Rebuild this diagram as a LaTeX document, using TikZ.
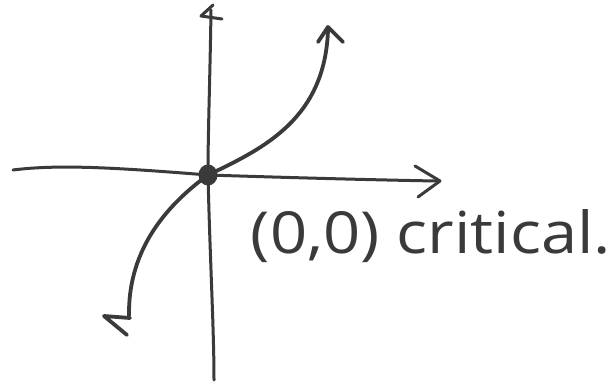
\documentclass[tikz,border=0pt]{standalone}
\usepackage{fontspec}
\setsansfont{Open Sans}
\usetikzlibrary{arrows.meta,shapes.geometric}
\definecolor{ink}{HTML}{3A3A3A}
\begin{document}
\begin{tikzpicture}[x=1pt,y=-1pt,
  pen/.style={draw=ink,line width=3pt,line cap=round,line join=round},
  thickpen/.style={draw=ink,line width=3.8pt,line cap=round,line join=round}]
\useasboundingbox (0,0) rectangle (615,390);
% named points
\coordinate (xl) at (13,170);
\coordinate (xr) at (436,181);
\coordinate (yt) at (211,10);
\coordinate (yb) at (214,380);
\coordinate (ctop) at (328,30);
\coordinate (cbot) at (129,316);
\node[ellipse,fill=ink,minimum width=19pt,minimum height=21pt,inner sep=0pt] (o) at (208,175) {};
% horizontal axis
\draw[pen] (xl) .. controls (60,164) and (120,168) .. (o.center) .. controls (300,178) and (380,180) .. (xr);
\draw[pen] (415,166) -- (440,181) -- (418,197);
% vertical axis
\draw[pen] (yt) .. controls (210,80) and (208,130) .. (o.center) .. controls (210,260) and (214,330) .. (yb);
\draw[pen] (213,5) -- (201,16) -- (222,19);
% curve
\draw[thickpen] (o.center) .. controls (265,148) and (325,118) .. (ctop);
\draw[thickpen] (318,42) -- (328,27) -- (343,42);
\draw[thickpen] (o.center) .. controls (160,210) and (128,255) .. (cbot);
\draw[thickpen] (130,318) -- (104,316) -- (127,335);
% label
\node[text=ink,inner sep=0pt] (lbl) at (431,236) {\resizebox{360pt}{44pt}{\sffamily (0,0) critical.}};
\end{tikzpicture}
\end{document}
